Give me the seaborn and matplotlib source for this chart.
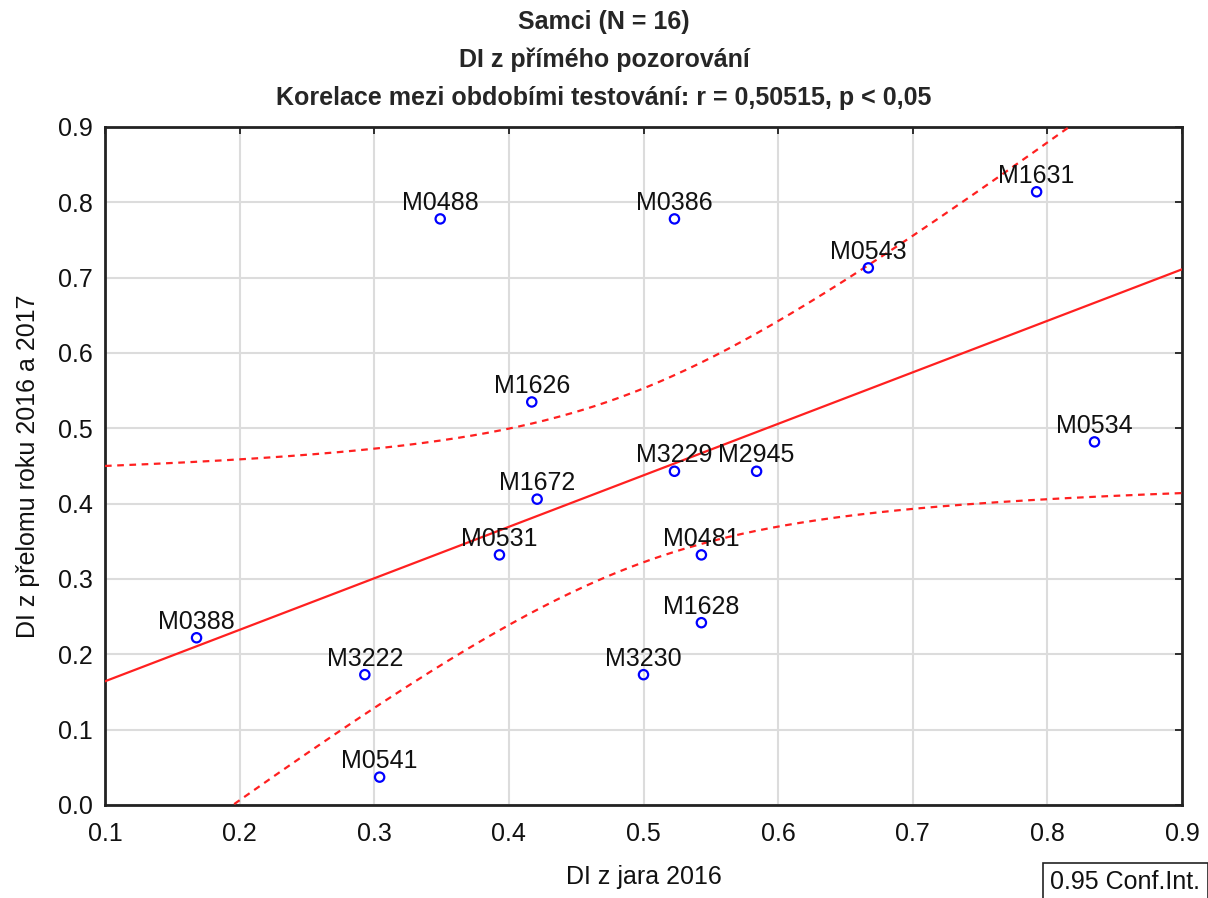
import numpy as np
import pandas as pd
import matplotlib
matplotlib.use("Agg")
import matplotlib.pyplot as plt
import seaborn as sns

labels = ["M0488", "M0386", "M1631", "M0543", "M1626", "M0534", "M3229", "M2945",
          "M1672", "M0531", "M0481", "M1628", "M0388", "M3222", "M3230", "M0541"]
x_vals = [0.349, 0.523, 0.792, 0.667, 0.417, 0.835, 0.523, 0.584,
          0.421, 0.393, 0.543, 0.543, 0.168, 0.293, 0.500, 0.304]
y_vals = [0.778, 0.778, 0.814, 0.713, 0.535, 0.482, 0.443, 0.443,
          0.406, 0.332, 0.332, 0.242, 0.222, 0.173, 0.173, 0.037]

title_lines = ["Samci (N = 16)", "DI z přímého pozorování",
               "Korelace mezi obdobími testování: r = 0,50515, p < 0,05"]
x_label = "DI z jara 2016"
y_label = "DI z přelomu roku 2016 a 2017"
ticks = [0.0, 0.1, 0.2, 0.3, 0.4, 0.5, 0.6, 0.7, 0.8, 0.9]

df = pd.DataFrame({"label": labels, "x": x_vals, "y": y_vals})

sns.set_style("white")
plt.rcParams["font.family"] = ["Liberation Sans", "DejaVu Sans"]

fig = plt.figure(figsize=(12.08, 8.98), dpi=100)
ax = fig.add_axes([105 / 1208, 1 - 805 / 898, (1182 - 105) / 1208, (805 - 127) / 898])

# regression and 95% confidence band computed from the data
x = df["x"].to_numpy()
y = df["y"].to_numpy()
n = len(x)
b, a = np.polyfit(x, y, 1)
xs = np.linspace(0.1, 0.9, 300)
yhat = a + b * xs
resid = y - (a + b * x)
s = np.sqrt(np.sum(resid ** 2) / (n - 2))
sxx = np.sum((x - x.mean()) ** 2)
t = 2.1448
half = t * s * np.sqrt(1 / n + (xs - x.mean()) ** 2 / sxx)

sns.lineplot(x=xs, y=yhat, ax=ax, color="#ff2020", lw=1.6, zorder=3)
sns.lineplot(x=xs, y=yhat + half, ax=ax, color="#ff2020", lw=1.6, zorder=3)
sns.lineplot(x=xs, y=yhat - half, ax=ax, color="#ff2020", lw=1.6, zorder=3)
ax.lines[1].set_linestyle((0, (3, 2.5)))
ax.lines[2].set_linestyle((0, (3, 2.5)))

sns.scatterplot(data=df, x="x", y="y", ax=ax, marker="o", s=45,
                facecolor="none", edgecolor="#0000ff", linewidth=1.6, zorder=4)

for lab, xv, yv in zip(labels, x_vals, y_vals):
    ax.annotate(lab, (xv, yv), xytext=(0, 3), textcoords="offset points",
                ha="center", va="bottom", fontsize=18, color="#111111", zorder=5)

ax.set_xlim(0.1, 0.9)
ax.set_ylim(0.0, 0.9)
ax.set_xticks(ticks[1:])
ax.set_yticks(ticks)
ax.set_xticklabels([f"{v:.1f}" for v in ticks[1:]])
ax.set_yticklabels([f"{v:.1f}" for v in ticks])
ax.grid(True, color="#dcdcdc", lw=1.5, zorder=0)
ax.set_axisbelow(True)
ax.tick_params(direction="in", length=5, width=1.2, top=True, right=True,
               labelsize=18, colors="#111111")
ax.tick_params(axis="x", pad=12)
ax.tick_params(axis="y", pad=9)
for sp in ax.spines.values():
    sp.set_visible(True)
    sp.set_color("#222222")
    sp.set_linewidth(2.0)

ax.set_xlabel(x_label, fontsize=18, color="#111111", va="center")
ax.set_ylabel(y_label, fontsize=18, color="#111111", va="center")
ax.xaxis.set_label_coords(0.5, (805 - 877) / 678)
ax.yaxis.set_label_coords((28 - 105) / 1077, 0.5)

fig.text(0.5, 1 - 22 / 898, title_lines[0], ha="center", va="center",
         fontsize=18, fontweight="bold")
fig.text(0.5, 1 - 60 / 898, title_lines[1], ha="center", va="center",
         fontsize=18, fontweight="bold")
fig.text(0.5, 1 - 98 / 898, title_lines[2], ha="center", va="center",
         fontsize=18, fontweight="bold")

fig.text(1050 / 1208, 1 - 882 / 898, "0.95 Conf.Int.", ha="left", va="center",
         fontsize=18, color="#111111",
         bbox=dict(boxstyle="square,pad=0.3", facecolor="white",
                   edgecolor="#222222", linewidth=1.2))

fig.savefig("out.png", dpi=100)
